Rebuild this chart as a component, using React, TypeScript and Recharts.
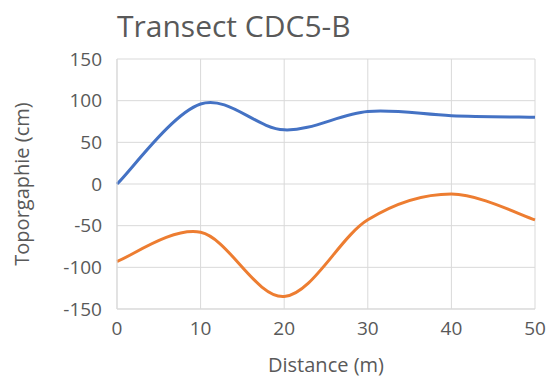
import React from 'react';
import {
    LineChart,
    Line,
    XAxis,
    YAxis,
    CartesianGrid,
    Label,
} from 'recharts';

// Transect profile, measured every 10 m
const distances = [0, 10, 20, 30, 40, 50];
const upperProfile = [0, 96, 65, 87, 82, 80];
const lowerProfile = [-93, -58, -135, -43, -12, -43];

const xTicks = [0, 10, 20, 30, 40, 50];
const yTicks = [-150, -100, -50, 0, 50, 100, 150];

const chartData = distances.map((x, i) => ({
    x,
    upper: upperProfile[i],
    lower: lowerProfile[i],
}));

const FONT = '"Open Sans", sans-serif';
const TEXT = '#595959';
const GRID = '#d9d9d9';

// Spreadsheet-style smoothed line: cubic Bezier with Catmull-Rom tangents
function smoothCurve(context: any) {
    let pts: [number, number][] = [];
    return {
        areaStart() {},
        areaEnd() {},
        lineStart() {
            pts = [];
        },
        point(x: number, y: number) {
            pts.push([+x, +y]);
        },
        lineEnd() {
            if (!pts.length) return;
            context.moveTo(pts[0][0], pts[0][1]);
            for (let i = 0; i < pts.length - 1; i++) {
                const p0 = pts[Math.max(i - 1, 0)];
                const p1 = pts[i];
                const p2 = pts[i + 1];
                const p3 = pts[Math.min(i + 2, pts.length - 1)];
                context.bezierCurveTo(
                    p1[0] + (p2[0] - p0[0]) / 6,
                    p1[1] + (p2[1] - p0[1]) / 6,
                    p2[0] - (p3[0] - p1[0]) / 6,
                    p2[1] - (p3[1] - p1[1]) / 6,
                    p2[0],
                    p2[1]
                );
            }
        },
    };
}

export default function App() {
    return (
        <div style={{ position: 'absolute', left: 0, top: 0, width: 550, height: 382, background: '#fff', fontFamily: FONT }}>
            <div style={{ position: 'absolute', left: 117, top: 5, fontSize: 30, color: TEXT, whiteSpace: 'nowrap' }}>
                Transect CDC5-B
            </div>
            <LineChart
                width={550}
                height={382}
                data={chartData}
                margin={{ top: 59, right: 15, bottom: 3, left: 7 }}
            >
                <CartesianGrid stroke={GRID} strokeWidth={1} />
                <XAxis
                    dataKey="x"
                    type="number"
                    domain={[0, 50]}
                    ticks={xTicks}
                    interval={0}
                    height={70}
                    tickSize={0}
                    tickMargin={13}
                    axisLine={{ stroke: GRID }}
                    tickLine={false}
                    tick={{ fill: TEXT, fontSize: 19, fontFamily: FONT }}
                >
                    <Label value="Distance (m)" position="insideBottom" offset={7} fill={TEXT} fontSize={20} fontFamily={FONT} />
                </XAxis>
                <YAxis
                    type="number"
                    domain={[-150, 150]}
                    ticks={yTicks}
                    interval={0}
                    width={110}
                    tickSize={0}
                    tickMargin={15}
                    axisLine={{ stroke: GRID }}
                    tickLine={false}
                    tick={{ fill: TEXT, fontSize: 19, fontFamily: FONT }}
                >
                    <Label
                        value="Toporgaphie (cm)"
                        angle={-90}
                        position="insideLeft"
                        offset={15}
                        style={{ textAnchor: 'middle' }}
                        fill={TEXT}
                        fontSize={20}
                        fontFamily={FONT}
                    />
                </YAxis>
                <Line
                    dataKey="upper"
                    type={smoothCurve as any}
                    stroke="#4472C4"
                    strokeWidth={3}
                    dot={false}
                    isAnimationActive={false}
                />
                <Line
                    dataKey="lower"
                    type={smoothCurve as any}
                    stroke="#ED7D31"
                    strokeWidth={3}
                    dot={false}
                    isAnimationActive={false}
                />
            </LineChart>
        </div>
    );
}
